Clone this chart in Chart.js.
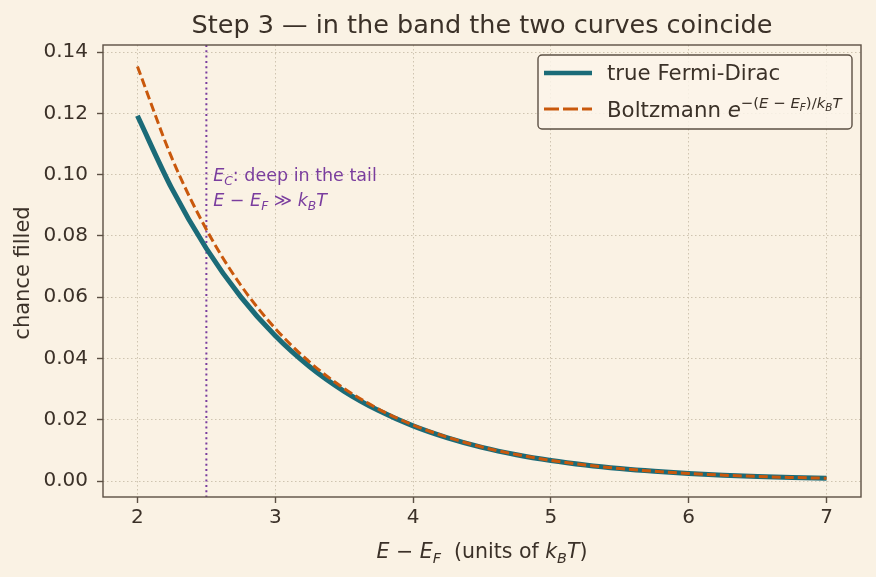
<!DOCTYPE html>
<html>
<head>
<meta charset="utf-8">
<script src="https://cdn.jsdelivr.net/npm/chart.js@4/dist/chart.umd.min.js"></script>
<style>
  html, body { margin: 0; padding: 0; background: #faf2e4; }
  #wrap { width: 876px; height: 577px; }
</style>
</head>
<body>
<div id="wrap"><canvas id="chart" width="876" height="577"></canvas></div>
<script>
// energy above E_F, in units of k_B T
const energies = [2, 2.25, 2.5, 2.75, 3, 3.25, 3.5, 3.75, 4, 4.25, 4.5, 4.75, 5, 5.25, 5.5, 5.75, 6, 6.25, 6.5, 6.75, 7];
const fermiDirac = [0.1192, 0.0954, 0.0759, 0.0601, 0.0474, 0.0373, 0.0293, 0.0230, 0.0180, 0.0141, 0.0110, 0.00858, 0.00669, 0.00522, 0.00407, 0.00317, 0.00247, 0.00193, 0.00150, 0.00117, 0.00091];
const boltzmann = [0.1353, 0.1054, 0.0821, 0.0639, 0.0498, 0.0388, 0.0302, 0.0235, 0.0183, 0.0143, 0.0111, 0.00865, 0.00674, 0.00525, 0.00409, 0.00318, 0.00248, 0.00193, 0.00150, 0.00117, 0.00091];
const xTicks = [2, 3, 4, 5, 6, 7];
const yTicks = [0, 0.02, 0.04, 0.06, 0.08, 0.10, 0.12, 0.14];
const bandEdge = 2.5;

const INK = "#3b3128";
const SPINE = "#5c5044";
const GRID = "#cfc4b0";
const TEAL = "#1b6b78";
const ORANGE = "#c9580c";
const PURPLE = "#7a3d9e";
const FONT = "'DejaVu Sans', sans-serif";

// draw a run of text pieces: {t, it (italic), sub, sup}
function richText(ctx, parts, x, y, size, color, align) {
  const sizeFor = p => {
    let s = size;
    if (p.sup) s *= 0.7;
    if (p.sub) s *= 0.7;
    return s;
  };
  const fontFor = p => (p.it ? "oblique " : "") + sizeFor(p) + "px " + FONT;
  let total = 0;
  parts.forEach(p => { ctx.font = fontFor(p); total += ctx.measureText(p.t).width; });
  let cx = align === "center" ? x - total / 2 : x;
  ctx.fillStyle = color;
  ctx.textBaseline = "alphabetic";
  ctx.textAlign = "left";
  parts.forEach(p => {
    ctx.font = fontFor(p);
    let dy = 0;
    if (p.sup) dy -= size * 0.42;
    if (p.sub) dy += (p.sup ? size * 0.7 : size) * 0.22;
    ctx.fillText(p.t, cx, y + dy);
    cx += ctx.measureText(p.t).width;
  });
}

const decor = {
  id: "decor",
  beforeDraw(chart) {
    const ctx = chart.ctx;
    ctx.save();
    ctx.fillStyle = "#faf2e4";
    ctx.fillRect(0, 0, chart.width, chart.height);
    ctx.restore();
  },
  beforeDatasetsDraw(chart) {
    const { ctx, chartArea: a, scales } = chart;
    const xp = scales.x.getPixelForValue(bandEdge);
    ctx.save();
    ctx.strokeStyle = PURPLE;
    ctx.lineWidth = 2;
    ctx.setLineDash([2, 3.3]);
    ctx.beginPath();
    ctx.moveTo(xp, a.top);
    ctx.lineTo(xp, a.bottom);
    ctx.stroke();
    ctx.restore();
  },
  afterDraw(chart) {
    const { ctx, chartArea: a, scales } = chart;
    ctx.save();
    // spines
    ctx.strokeStyle = SPINE;
    ctx.lineWidth = 1.4;
    ctx.strokeRect(a.left, a.top, a.right - a.left, a.bottom - a.top);

    // title
    ctx.font = "25.5px " + FONT;
    ctx.fillStyle = INK;
    ctx.textAlign = "center";
    ctx.textBaseline = "alphabetic";
    ctx.fillText("Step 3 — in the band the two curves coincide", (a.left + a.right) / 2, 33);

    // axis titles
    richText(ctx, [
      { t: "E", it: 1 }, { t: " − " }, { t: "E", it: 1 }, { t: "F", it: 1, sub: 1 },
      { t: "  (units of " }, { t: "k", it: 1 }, { t: "B", it: 1, sub: 1 }, { t: "T", it: 1 }, { t: ")" }
    ], (a.left + a.right) / 2, 558, 20.5, INK, "center");
    ctx.save();
    ctx.translate(29, (a.top + a.bottom) / 2 + 2);
    ctx.rotate(-Math.PI / 2);
    ctx.font = "21px " + FONT;
    ctx.fillStyle = INK;
    ctx.textAlign = "center";
    ctx.fillText("chance filled", 0, 0);
    ctx.restore();

    // annotation next to the band edge
    const ax = scales.x.getPixelForValue(2.55);
    richText(ctx, [{ t: "E", it: 1 }, { t: "C", it: 1, sub: 1 }, { t: ": deep in the tail" }],
      ax, scales.y.getPixelForValue(0.0978), 17.5, PURPLE);
    richText(ctx, [{ t: "E", it: 1 }, { t: " − " }, { t: "E", it: 1 }, { t: "F", it: 1, sub: 1 },
      { t: " ≫ " }, { t: "k", it: 1 }, { t: "B", it: 1, sub: 1 }, { t: "T", it: 1 }],
      ax, scales.y.getPixelForValue(0.0898), 17.5, PURPLE);

    // legend
    const lx = 538, ly = 55, lw = 314, lh = 74;
    ctx.fillStyle = "rgba(251,245,234,0.85)";
    ctx.strokeStyle = SPINE;
    ctx.lineWidth = 1.4;
    ctx.beginPath();
    ctx.roundRect(lx, ly, lw, lh, 4);
    ctx.fill();
    ctx.stroke();

    ctx.lineCap = "butt";
    ctx.strokeStyle = TEAL;
    ctx.lineWidth = 4.5;
    ctx.beginPath(); ctx.moveTo(544, 73); ctx.lineTo(592, 73); ctx.stroke();
    ctx.strokeStyle = ORANGE;
    ctx.lineWidth = 2.8;
    ctx.setLineDash([15, 4]);
    ctx.beginPath(); ctx.moveTo(544, 109); ctx.lineTo(592, 109); ctx.stroke();
    ctx.setLineDash([]);

    richText(ctx, [{ t: "true Fermi-Dirac" }], 607, 80, 21.3, INK);
    richText(ctx, [{ t: "Boltzmann " }, { t: "e", it: 1 },
      { t: "−(", sup: 1 }, { t: "E", it: 1, sup: 1 }, { t: " − ", sup: 1 }, { t: "E", it: 1, sup: 1 },
      { t: "F", it: 1, sup: 1, sub: 1 }, { t: ")/", sup: 1 }, { t: "k", it: 1, sup: 1 },
      { t: "B", it: 1, sup: 1, sub: 1 }, { t: "T", it: 1, sup: 1 }], 607, 117, 21.3, INK);
    ctx.restore();
  }
};

const toPoints = ys => energies.map((x, i) => ({ x, y: ys[i] }));

const gridOpts = { color: GRID, lineWidth: 1, tickColor: SPINE, tickLength: 6, tickBorderDash: [], tickWidth: 1.4 };

new Chart(document.getElementById("chart"), {
  type: "line",
  data: {
    datasets: [
      {
        label: "true Fermi-Dirac",
        data: toPoints(fermiDirac),
        borderColor: TEAL,
        borderWidth: 5,
        pointRadius: 0,
        cubicInterpolationMode: "monotone",
        order: 2
      },
      {
        label: "Boltzmann",
        data: toPoints(boltzmann),
        borderColor: ORANGE,
        borderWidth: 3,
        borderDash: [9, 4],
        pointRadius: 0,
        cubicInterpolationMode: "monotone",
        order: 1
      }
    ]
  },
  options: {
    responsive: false,
    animation: false,
    devicePixelRatio: 1,
    layout: { padding: { top: 45, right: 15, left: 0, bottom: 0 } },
    plugins: { legend: { display: false }, title: { display: false }, tooltip: { enabled: false } },
    scales: {
      x: {
        type: "linear",
        min: 1.75,
        max: 7.25,
        afterBuildTicks: s => { s.ticks = xTicks.map(v => ({ value: v })); },
        afterFit: s => { s.height = 80; },
        grid: gridOpts,
        border: { display: false, dash: [1.5, 2.5] },
        ticks: { color: INK, font: { family: FONT, size: 20 }, padding: 3, maxRotation: 0, callback: v => String(v) }
      },
      y: {
        type: "linear",
        min: -0.0052,
        max: 0.1423,
        afterBuildTicks: s => { s.ticks = yTicks.map(v => ({ value: v })); },
        afterFit: s => { s.width = 103; },
        grid: gridOpts,
        border: { display: false, dash: [1.5, 2.5] },
        ticks: { color: INK, font: { family: FONT, size: 20 }, padding: 9, callback: v => v.toFixed(2) }
      }
    }
  },
  plugins: [decor]
});
</script>
</body>
</html>
